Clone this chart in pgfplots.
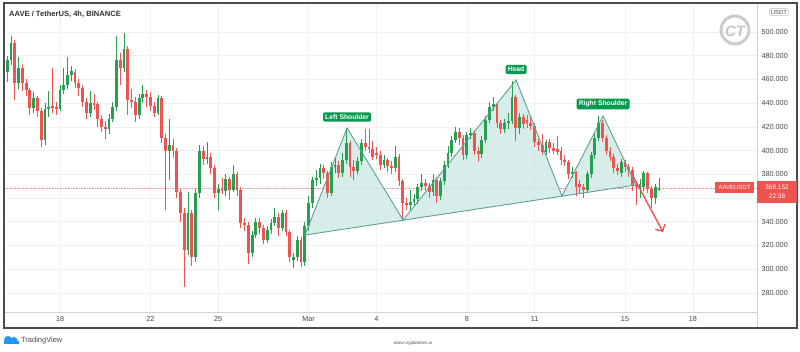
\documentclass[border=0pt]{standalone}
\usepackage{pgfplots}
\pgfplotsset{compat=1.18}
\usepackage{pgfplotstable}
\usepackage{fontspec}
\setmainfont{Liberation Sans}
\usetikzlibrary{arrows.meta}
\definecolor{cgreen}{RGB}{38,160,80}
\definecolor{cred}{RGB}{239,83,80}
\definecolor{lblgreen}{RGB}{8,153,80}
\definecolor{pfill}{RGB}{205,233,229}
\definecolor{pline}{RGB}{95,160,150}
\definecolor{txt}{RGB}{70,70,70}
\definecolor{tvblue}{RGB}{33,150,243}

\pgfplotstableread{
n o h l c
0 466 480 458 476
1 476 497 472 491
3 457 479 452 470
7 436 449 432 444
10 409 440 405 435
11 435 450 428 437
14 435 455 433 451
15 451 470 448 455
16 455 479 452 464
17 464 471 459 467
22 432 450 428 440
27 418 431 414 427
28 427 441 424 437
29 437 497 433 476
31 470 499 466 486
35 430 448 427 444
36 444 455 440 448
40 432 447 430 444
43 400 427 375 405
48 316 365 312 347
50 310 368 306 364
51 364 405 360 400
53 393 407 389 395
56 364 372 350 368
58 366 380 362 376
60 367 388 365 380
65 314 332 310 329
66 329 343 326 340
69 325 336 322 333
70 333 342 330 339
71 339 352 336 344
73 335 350 332 347
76 308 314 301 310
77 310 328 307 325
79 306 340 303 336
80 336 362 332 356
81 356 378 352 375
82 375 384 370 377
83 377 389 372 385
86 364 390 362 386
87 386 395 381 388
89 381 398 378 392
90 392 419 389 406
93 383 395 380 391
94 391 410 388 406
100 388 396 385 392
103 385 404 382 395
107 354 367 350 357
108 357 363 353 359
109 359 372 355 369
110 369 380 366 373
113 365 380 362 375
115 362 377 358 374
116 374 391 371 388
117 388 404 385 398
118 398 412 395 409
119 409 420 406 416
122 396 416 393 413
123 413 419 410 415
126 397 412 394 409
127 409 429 406 426
128 426 441 423 437
129 437 445 433 439
132 418 427 415 423
133 423 432 418 425
134 425 459 422 445
136 419 432 414 428
143 399 409 396 407
150 380 386 377 382
154 367 383 364 380
155 380 399 377 396
156 396 414 393 411
157 411 429 408 423
163 381 393 378 390
168 369 376 360 372
169 369 383 366 381
172 360 372 355 369
173 367 377 366 368.152
}\greentab

\pgfplotstableread{
n o h l c
2 491 493 443 457
4 470 472 450 457
5 457 460 446 451
6 451 453 430 436
8 444 446 428 433
9 433 436 403 409
12 438 470 432 436
13 437 441 430 435
18 466 469 453 457
19 457 460 446 453
20 453 455 437 441
21 441 444 427 432
23 440 448 434 439
24 439 441 420 427
25 427 430 416 420
26 420 425 410 418
30 476 482 455 470
32 486 488 430 443
33 443 452 436 441
34 441 445 424 430
37 448 451 437 445
38 445 449 433 438
39 438 441 428 432
41 444 446 406 411
42 411 414 350 400
44 405 410 394 400
45 400 402 360 365
46 365 368 340 347
47 347 352 285 316
49 347 350 303 310
52 400 404 388 393
54 395 398 380 385
55 385 388 360 364
57 368 377 363 366
59 376 378 358 367
61 380 382 362 367
62 367 369 335 339
63 339 343 332 337
64 337 340 304 314
67 340 343 330 335
68 335 337 321 325
72 344 347 328 335
74 347 350 328 331
75 331 333 306 310
78 325 327 302 306
84 385 388 376 381
85 381 383 360 364
88 388 391 377 381
91 406 408 378 386
92 386 392 375 383
95 406 418 400 403
96 403 418 398 401
97 401 408 392 395
98 398 403 393 396
99 396 400 384 388
101 392 394 382 387
102 387 391 380 385
104 395 397 370 374
105 374 376 341 356
106 356 360 350 354
111 373 376 366 370
112 370 373 360 365
114 375 378 356 362
120 416 419 405 411
121 411 413 392 396
124 415 417 396 400
125 400 403 390 397
130 439 441 419 423
131 423 426 414 418
135 445 447 408 419
137 428 431 418 422
138 426 430 419 423
139 423 428 417 421
140 421 423 403 407
141 407 410 400 405
142 405 414 396 399
144 407 410 398 402
145 402 406 397 400
146 401 412 396 399
147 400 403 388 392
148 392 396 387 390
149 390 392 376 380
151 382 383 362 369
152 372 375 363 369
153 369 372 360 367
158 423 426 407 411
159 411 413 396 400
160 400 403 391 395
161 395 397 381 385
162 385 389 379 383
164 390 392 382 386
165 386 389 378 384
166 384 386 366 371
167 371 374 354 369
170 381 382 364 368
171 368 370 352 360
}\redtab

\begin{document}
\begin{tikzpicture}
\fill[white] (0,0) rectangle (800bp,352bp);
\begin{axis}[
  at={(4bp,40bp)}, anchor=south west, scale only axis,
  width=753bp, height=309bp,
  xmin=15.52, xmax=48.84, ymin=263.9, ymax=524.45,
  axis line style={gray!35, line width=0.6bp},
  xtick={18,22,25,29,32,36,39,43,46},
  xticklabels={18,22,25,Mar,4,8,11,15,18},
  ytick={280,300,320,340,380,400,420,440,460,480,500},
  extra y ticks={360}, extra y tick labels={},
  yticklabel pos=right,
  /pgf/number format/assume math mode=true,
  yticklabel style={/pgf/number format/fixed, /pgf/number format/fixed zerofill, /pgf/number format/precision=3, font=\fontsize{7.3}{8}\selectfont, text=txt, xshift=1bp},
  xticklabel style={font=\fontsize{7.3}{8}\selectfont, text=txt, yshift=-1bp},
  major tick length=0pt,
  grid=major, major grid style={gray!12, line width=0.6bp},
  extra tick style={grid=major, major grid style={gray!12, line width=0.6bp}},
]
% current price line
\addplot[cred!60, densely dotted, line width=0.6bp, forget plot] coordinates {(15.52,368.152) (48.84,368.152)};
% pattern fill
\addplot[fill=pfill, fill opacity=0.8, draw=none, forget plot] coordinates {(28.84,328.8) (30.70,419.1) (33.18,341.5) (38.18,459.5) (40.21,361.7) (42.03,429.2) (43.49,371.0)} -- cycle;
% wicks
\addplot[draw=none, forget plot, error bars/.cd, y dir=both, y explicit, error mark=none, error bar style={draw=cgreen, line width=0.8bp}]
  table[x expr=(94+\thisrow{n})/6, y=c, y error plus expr=\thisrow{h}-\thisrow{c}, y error minus expr=\thisrow{c}-\thisrow{l}] {\greentab};
\addplot[draw=none, forget plot, error bars/.cd, y dir=both, y explicit, error mark=none, error bar style={draw=cred, line width=0.8bp}]
  table[x expr=(94+\thisrow{n})/6, y=c, y error plus expr=\thisrow{h}-\thisrow{c}, y error minus expr=\thisrow{c}-\thisrow{l}] {\redtab};
% bodies
\addplot[draw=none, forget plot, error bars/.cd, y dir=both, y explicit, error mark=none, error bar style={draw=cgreen, line width=2.8bp}]
  table[x expr=(94+\thisrow{n})/6, y expr=(\thisrow{o}+\thisrow{c})/2, y error expr=abs(\thisrow{c}-\thisrow{o})/2] {\greentab};
\addplot[draw=none, forget plot, error bars/.cd, y dir=both, y explicit, error mark=none, error bar style={draw=cred, line width=2.8bp}]
  table[x expr=(94+\thisrow{n})/6, y expr=(\thisrow{o}+\thisrow{c})/2, y error expr=abs(\thisrow{c}-\thisrow{o})/2] {\redtab};
% pattern outline
\addplot[pline, line width=0.9bp, forget plot] coordinates {(28.84,328.8) (30.70,419.1) (33.18,341.5) (38.18,459.5) (40.21,361.7) (42.03,429.2) (43.49,371.0)} -- cycle;
% arrow
\addplot[cred, line width=1.4bp, -{Straight Barb[length=5bp,width=11bp]}, forget plot] coordinates {(43.35,378.6) (44.68,331.4)};
% labels
\node[fill=lblgreen, text=white, font=\bfseries\fontsize{6.8}{7}\selectfont, rounded corners=1.5bp, inner sep=2.2bp] at (axis cs:30.70,428.3) {Left Shoulder};
\node[fill=lblgreen, text=white, font=\bfseries\fontsize{6.8}{7}\selectfont, rounded corners=1.5bp, inner sep=2.2bp] at (axis cs:38.18,468.4) {Head};
\node[fill=lblgreen, text=white, font=\bfseries\fontsize{6.8}{7}\selectfont, rounded corners=1.5bp, inner sep=2.2bp] at (axis cs:42.03,439.3) {Right Shoulder};
\end{axis}
% frame and extras
\draw[gray!35, line width=0.6bp] (757bp,40bp) -- (757bp,24bp);
\draw[gray!60!black, line width=1.2bp] (4bp,24bp) rectangle (797bp,349bp);
\node[anchor=west, font=\bfseries\fontsize{7.6}{8}\selectfont, text=black!80, inner sep=0] at (9bp,338bp) {AAVE / TetherUS, 4h, BINANCE};
% watermark logo
\draw[gray!40, line width=3bp] (735bp,322bp) circle (14bp);
\node[font=\bfseries\itshape\fontsize{15}{15}\selectfont, text=gray!45] at (735bp,321bp) {CT};
% USDT box
\node[draw=gray!50, rounded corners=1bp, font=\fontsize{6}{6}\selectfont, text=txt, inner sep=1.3bp] at (779bp,340bp) {USDT};
% price labels
\node[fill=cred, text=white, font=\fontsize{6}{7}\selectfont, minimum width=39bp, minimum height=11bp, inner sep=0] at (734.5bp,164.5bp) {AAVEUSDT};
\node[fill=cred, text=white, align=center, font=\fontsize{6.5}{9.5}\selectfont, minimum width=40bp, minimum height=22bp, inner sep=0] at (777bp,160bp) {368.152\\22:36};
% bottom branding
\fill[tvblue] (4bp,8bp) rectangle (19bp,11bp);
\fill[tvblue] (8bp,12bp) circle (4bp);
\fill[tvblue] (14bp,11.5bp) circle (3.5bp);
\node[anchor=west, font=\fontsize{7.5}{8}\selectfont, text=black!70, inner sep=0] at (21bp,11bp) {TradingView};
\node[font=\fontsize{4.5}{5}\selectfont, text=black!70] at (413bp,9bp) {www.cryptotimes.io};
\end{tikzpicture}
\end{document}
